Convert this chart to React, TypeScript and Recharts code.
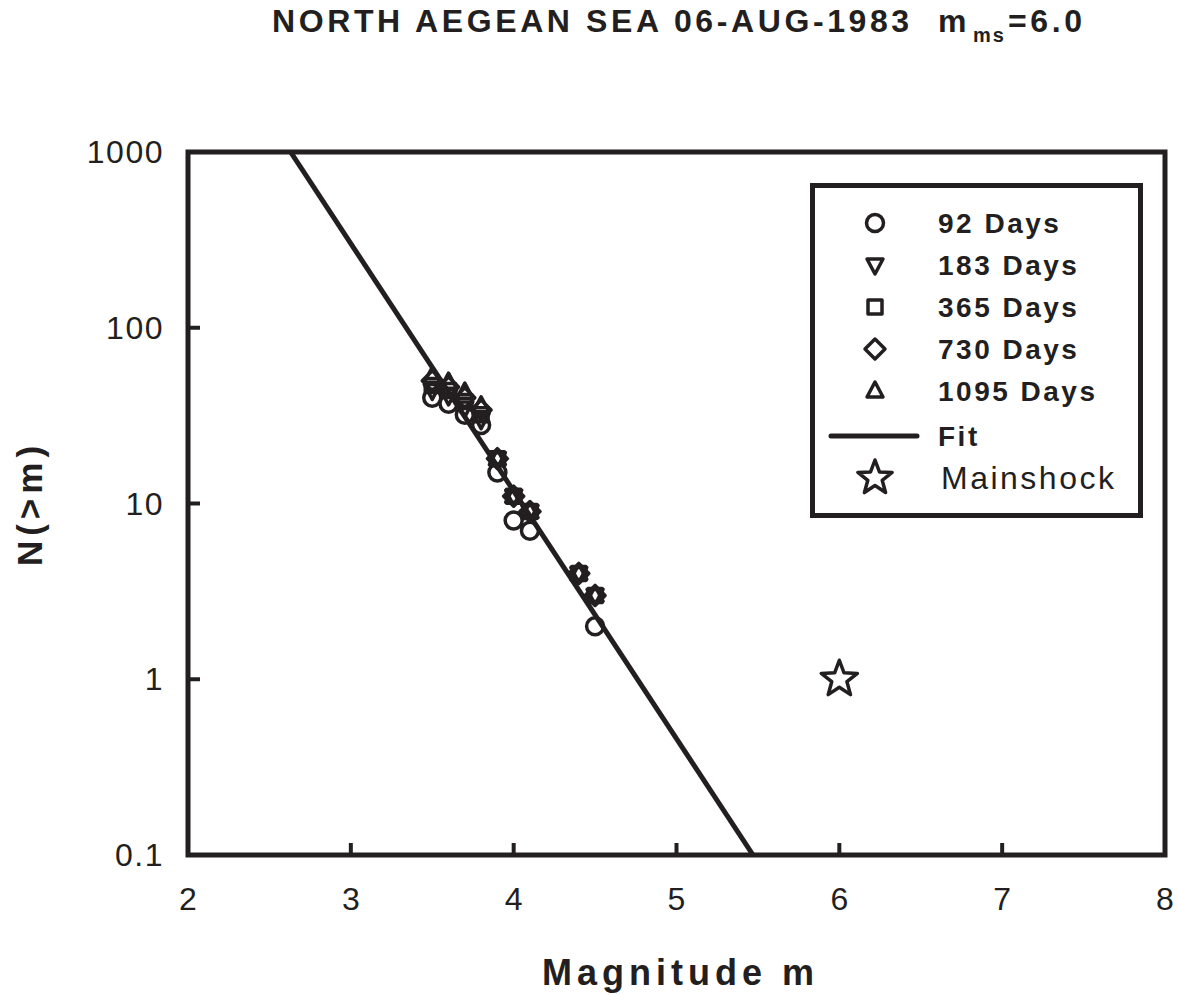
import React from 'react'
import {
  ComposedChart,
  Legend,
  ReferenceArea,
  Scatter,
  XAxis,
  YAxis,
} from 'recharts'

// Aftershock frequency-magnitude counts, N(>m), per time window
const magnitudes = [3.5, 3.6, 3.7, 3.8, 3.9, 4.0, 4.1, 4.4, 4.5]
const days92 = [40, 37, 32, 28, 15, 8, 7, null, 2]
const days183 = [44, 41, 35, 30, 18, 11, 9, 4, 3]
const days365 = [47, 44, 38, 32, 18, 11, 9, 4, 3]
const days730 = [50, 46, 40, 34, 18, 11, 9, 4, 3]
const days1095 = [53, 49, 43, 36, 18, 11, 9, 4, 3]

const fitMagnitudes = [2.63, 5.47]
const fitCounts = [1000, 0.1]

const mainshockMagnitude = [6.0]
const mainshockCount = [1]

const xTicks = [2, 3, 4, 5, 6, 7, 8]
const yTicks = [0.1, 1, 10, 100, 1000]

const INK = '#231f20'
const FONT = "'Liberation Sans', Arial, sans-serif"
const W = 1178
const H = 995

type Pt = { m: number; n: number }

const toPoints = (xs: number[], ys: (number | null)[]): Pt[] =>
  xs
    .map((m, i) => ({ m, n: ys[i] as number }))
    .filter((p) => p.n != null)

type Kind = 'circle' | 'down' | 'square' | 'diamond' | 'up' | 'star'

function Marker({ kind, cx, cy, big }: { kind: Kind; cx: number; cy: number; big?: boolean }) {
  const common = { fill: 'none', stroke: INK, strokeWidth: 3.5, strokeLinejoin: 'round' as const }
  if (kind === 'circle') return <circle cx={cx} cy={cy} r={8.5} {...common} />
  if (kind === 'square') return <rect x={cx - 7} y={cy - 7} width={14} height={14} {...common} />
  if (kind === 'diamond')
    return <path d={`M${cx},${cy - 10}L${cx + 10},${cy}L${cx},${cy + 10}L${cx - 10},${cy}Z`} {...common} />
  if (kind === 'up')
    return <path d={`M${cx},${cy - 9}L${cx + 8},${cy + 6}L${cx - 8},${cy + 6}Z`} {...common} />
  if (kind === 'down')
    return <path d={`M${cx},${cy + 9}L${cx + 8},${cy - 6}L${cx - 8},${cy - 6}Z`} {...common} />
  // star
  const R = big ? 19 : 18
  const r = R * 0.42
  let d = ''
  for (let i = 0; i < 10; i++) {
    const rad = i % 2 === 0 ? R : r
    const a = -Math.PI / 2 + (i * Math.PI) / 5
    d += `${i === 0 ? 'M' : 'L'}${cx + rad * Math.cos(a)},${cy + rad * Math.sin(a)}`
  }
  return <path d={d + 'Z'} fill="#fff" stroke={INK} strokeWidth={3.5} strokeLinejoin="round" />
}

const shapeFor = (kind: Kind, big?: boolean) => (props: any) => (
  <Marker kind={kind} cx={props.cx} cy={props.cy} big={big} />
)

const legendItems: { label: string; kind: Kind | 'line'; bold: boolean }[] = [
  { label: '92 Days', kind: 'circle', bold: true },
  { label: '183 Days', kind: 'down', bold: true },
  { label: '365 Days', kind: 'square', bold: true },
  { label: '730 Days', kind: 'diamond', bold: true },
  { label: '1095 Days', kind: 'up', bold: true },
  { label: 'Fit', kind: 'line', bold: true },
  { label: 'Mainshock', kind: 'star', bold: false },
]

function LegendBox() {
  const rowY = [40, 82, 124, 166, 208, 253, 295]
  return (
    <svg width={333} height={335} style={{ display: 'block' }}>
      <rect x={2.5} y={2.5} width={328} height={330} fill="#fff" stroke={INK} strokeWidth={5} />
      {legendItems.map((it, i) => (
        <g key={it.label}>
          {it.kind === 'line' ? (
            <line x1={21} x2={107} y1={rowY[i]} y2={rowY[i]} stroke={INK} strokeWidth={5} strokeLinecap="round" />
          ) : (
            <Marker kind={it.kind} cx={65} cy={rowY[i]} />
          )}
          <text
            x={it.bold ? 128 : 131}
            y={rowY[i]}
            dominantBaseline="central"
            fontFamily={FONT}
            fontWeight={it.bold ? 700 : 400}
            fontSize={it.bold ? 28 : 32}
            letterSpacing={2.5}
            fill={INK}
          >
            {it.label}
          </text>
        </g>
      ))}
    </svg>
  )
}

function XTick(props: any) {
  const { x, y, payload } = props
  const inner = payload.value !== 2 && payload.value !== 8
  return (
    <g>
      {inner && <line x1={x} x2={x} y1={y} y2={y - 12} stroke={INK} strokeWidth={4} />}
      <text x={x} y={y + 55} textAnchor="middle" fontFamily={FONT} fontSize={32} fill={INK}>
        {payload.value}
      </text>
    </g>
  )
}

function YTick(props: any) {
  const { x, y, payload } = props
  const inner = payload.value !== 0.1 && payload.value !== 1000
  return (
    <g>
      {inner && <line x1={x} x2={x + 12} y1={y} y2={y} stroke={INK} strokeWidth={4} />}
      <text
        x={x - 24}
        y={y}
        textAnchor="end"
        dominantBaseline="central"
        fontFamily={FONT}
        fontSize={32}
        letterSpacing={1.5}
        fill={INK}
      >
        {payload.value}
      </text>
    </g>
  )
}

export default function App() {
  const series: { name: string; kind: Kind; data: Pt[] }[] = [
    { name: '92 Days', kind: 'circle', data: toPoints(magnitudes, days92) },
    { name: '183 Days', kind: 'down', data: toPoints(magnitudes, days183) },
    { name: '365 Days', kind: 'square', data: toPoints(magnitudes, days365) },
    { name: '730 Days', kind: 'diamond', data: toPoints(magnitudes, days730) },
    { name: '1095 Days', kind: 'up', data: toPoints(magnitudes, days1095) },
  ]
  const fit = toPoints(fitMagnitudes, fitCounts)
  const mainshock = toPoints(mainshockMagnitude, mainshockCount)

  return (
    <div
      style={{
        position: 'absolute',
        left: 0,
        top: 0,
        width: W,
        height: H,
        overflow: 'hidden',
        background: '#fff',
      }}
    >
      <svg width={W} height={60} style={{ position: 'absolute', left: 0, top: 0 }}>
        <text y={32} fontFamily={FONT} fontWeight={700} fontSize={32} fill={INK}>
          <tspan x={272} letterSpacing={3.6}>NORTH AEGEAN SEA 06-AUG-1983</tspan>
          <tspan x={938} letterSpacing={1}>m</tspan>
          <tspan x={973} dy={10} fontSize={20} letterSpacing={2}>ms</tspan>
          <tspan x={1008} dy={-10} letterSpacing={3.6}>=6.0</tspan>
        </text>
      </svg>
      <ComposedChart width={W} height={H} margin={{ top: 152, right: 13, bottom: 80, left: 0 }}>
        <XAxis
          type="number"
          dataKey="m"
          domain={[2, 8]}
          ticks={xTicks}
          interval={0}
          axisLine={false}
          tickLine={false}
          tickSize={0}
          tickMargin={0}
          height={60}
          tick={<XTick />}
          allowDataOverflow
          label={(p: any) => {
            const vb = p.viewBox
            return (
              <text
                x={vb.x + vb.width / 2 + 4}
                y={vb.y + 130}
                textAnchor="middle"
                fontFamily={FONT}
                fontWeight={700}
                fontSize={36}
                letterSpacing={5}
                fill={INK}
              >
                Magnitude m
              </text>
            )
          }}
        />
        <YAxis
          type="number"
          dataKey="n"
          scale="log"
          domain={[0.1, 1000]}
          ticks={yTicks}
          interval={0}
          axisLine={false}
          tickLine={false}
          tickSize={0}
          tickMargin={0}
          width={188}
          tick={<YTick />}
          allowDataOverflow
          label={(p: any) => {
            const vb = p.viewBox
            const cx = 29
            const cy = vb.y + vb.height / 2
            return (
              <text
                x={cx}
                y={cy}
                transform={`rotate(-90 ${cx} ${cy})`}
                textAnchor="middle"
                dominantBaseline="central"
                fontFamily={FONT}
                fontWeight={700}
                fontSize={35}
                letterSpacing={5}
                fill={INK}
              >
                N(&gt;m)
              </text>
            )
          }}
        />
        <ReferenceArea
          x1={2}
          x2={8}
          y1={0.1}
          y2={1000}
          fill="none"
          fillOpacity={0}
          stroke={INK}
          strokeWidth={5}
          ifOverflow="visible"
        />
        <Scatter
          name="Fit"
          data={fit}
          line={{ stroke: INK, strokeWidth: 5 }}
          shape={() => <g />}
          isAnimationActive={false}
        />
        {series.map((s) => (
          <Scatter
            key={s.name}
            name={s.name}
            data={s.data}
            shape={shapeFor(s.kind)}
            isAnimationActive={false}
          />
        ))}
        <Scatter
          name="Mainshock"
          data={mainshock}
          shape={shapeFor('star', true)}
          isAnimationActive={false}
        />
        <Legend
          layout="vertical"
          align="center"
          verticalAlign="middle"
          wrapperStyle={{ left: 810, top: 183, width: 333, height: 335 }}
          content={() => <LegendBox />}
        />
      </ComposedChart>
    </div>
  )
}
